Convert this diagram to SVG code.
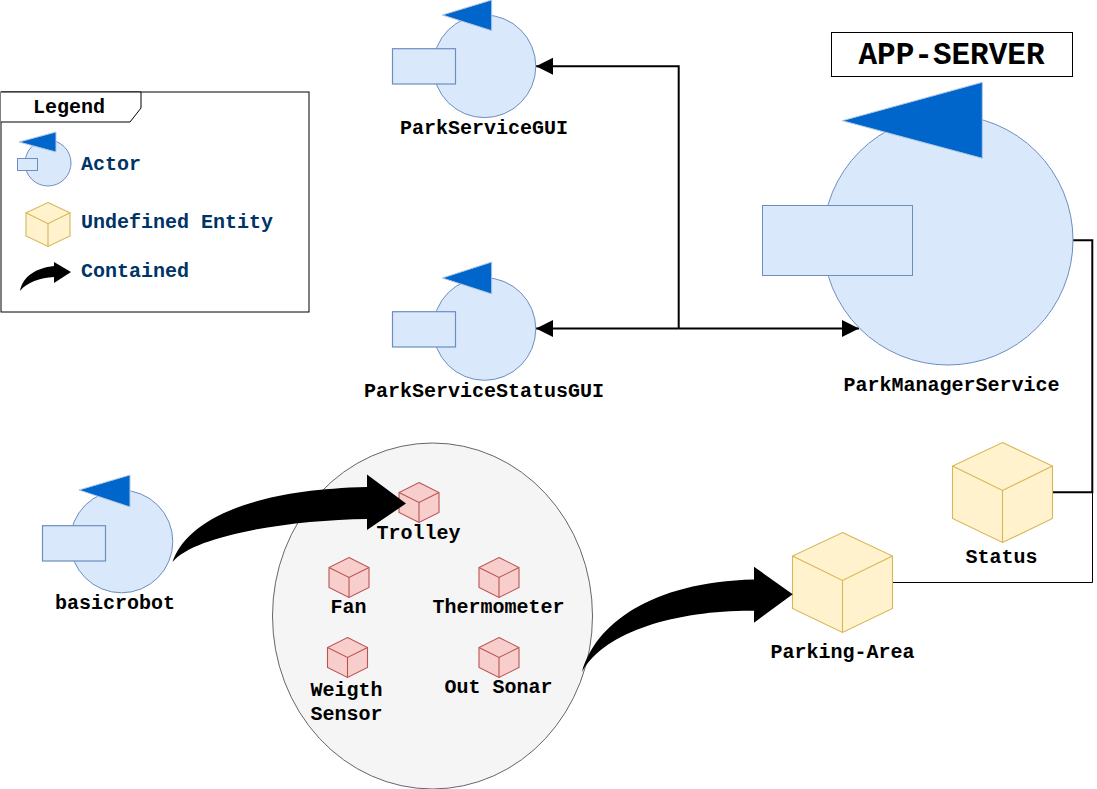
<svg xmlns="http://www.w3.org/2000/svg" width="1097" height="789" viewBox="0 0 1097 789">
<style>
text{font-family:"Liberation Mono","Courier New",monospace;font-size:20px;font-weight:bold;fill:#000;text-anchor:middle}
.leg{fill:#003366;text-anchor:start}
.c{fill:#dae8fc;stroke:#6c8ebf;stroke-width:1}
.t{fill:#0066cc;stroke:#b3c9e6;stroke-width:1}
.y{fill:#fff2cc;stroke:#d6b656;stroke-width:1.100;stroke-linejoin:miter}
.r{fill:#f8cecc;stroke:#b85450;stroke-width:1.100;stroke-linejoin:miter}
.w{fill:none;stroke:#000;stroke-width:2}
</style>
<defs>
<marker id="ah" markerUnits="userSpaceOnUse" markerWidth="18" markerHeight="18" refX="17" refY="9" orient="auto-start-reverse"><path d="M0,0.500 L17,9 L0,17.500 Z" fill="#000"/></marker>
<g id="cube"><path d="M0,-50 L50,-26.500 V26 L0,50 L-50,26 V-26.500 Z"/><path d="M-50,-26.500 L0,-2 L50,-26.500 M0,-2 V50" fill="none"/></g>
<g id="rcube"><path d="M0,-20 L20,-10 V10 L0,20 L-20,10 V-10 Z"/><path d="M-20,-10 L0,0 L20,-10 M0,0 V20" fill="none"/></g>
</defs>
<g id="connectors">
<path class="w" d="M678.700,328.500 V66.300 H536" marker-end="url(#ah)"/>
<path class="w" d="M678.700,328.500 H536" marker-end="url(#ah)"/>
<path class="w" d="M678.700,328.500 H859" marker-end="url(#ah)"/>
<path class="w" d="M1073,240.300 H1092.300 V492.300 H1053"/>
<path d="M1092.500,492 V582.500 H893" fill="none" stroke="#000" stroke-width="1"/>
</g>
<g id="legend">
<rect x="1" y="92" width="308" height="220" fill="#fff" stroke="#000" stroke-width="1"/>
<path d="M1,92 H141 V108 L130,122 H1" fill="#fff" stroke="#000" stroke-width="1"/>
<text x="69" y="113">Legend</text>
<circle class="c" cx="48" cy="163" r="23"/>
<rect class="c" x="17.500" y="158.500" width="20" height="12"/>
<path class="t" d="M19,142 L56,132 V152 Z"/>
<text class="leg" x="81" y="170">Actor</text>
<g transform="translate(48,224.500) scale(.44)" class="y" style="stroke-width:2.500"><use href="#cube"/></g>
<text class="leg" x="81" y="228">Undefined Entity</text>
<path d="M20,291 C23,276 36,268 54,266 L54,262 L71,272 L54,283 L54,277 C40,278 27,282 20,291 Z" fill="#000"/>
<text class="leg" x="81" y="277">Contained</text>
</g>
<g id="ParkServiceGUI">
<circle class="c" cx="484.500" cy="66.300" r="51.300"/>
<rect class="c" x="392.500" y="48.700" width="63" height="35.300" style="stroke-width:1.200"/>
<path class="t" d="M442.300,15 L491.700,0 V30.700 Z"/>
<text x="484" y="134">ParkServiceGUI</text>
</g>
<g id="ParkServiceStatusGUI">
<circle class="c" cx="484.500" cy="329" r="51.300"/>
<rect class="c" x="392.500" y="311.700" width="63" height="35.300" style="stroke-width:1.200"/>
<path class="t" d="M442.300,278 L491.700,262 V294 Z"/>
<text x="484" y="397">ParkServiceStatusGUI</text>
</g>
<g id="basicrobot">
<circle class="c" cx="121.500" cy="541.500" r="51.300"/>
<rect class="c" x="42.500" y="525.700" width="63" height="35.300" style="stroke-width:1.200"/>
<path class="t" d="M79,490 L130,475 V507 Z"/>
<text x="115" y="609">basicrobot</text>
</g>
<g id="ParkManagerService">
<circle class="c" cx="948" cy="240" r="125"/>
<rect class="c" x="762.500" y="205.500" width="150" height="70"/>
<path class="t" d="M842.300,120.700 L982.300,82.300 V158.300 Z"/>
<text x="951.500" y="391">ParkManagerService</text>
</g>
<g id="APP-SERVER">
<rect x="831.500" y="32.500" width="241" height="44" fill="#fff" stroke="#000" stroke-width="1"/>
<text x="951.500" y="64" style="font-size:31px">APP-SERVER</text>
</g>
<g id="Status" class="y"><use href="#cube" x="1002.500" y="492.500"/></g>
<text x="1001.500" y="563">Status</text>
<g id="Parking-Area" class="y"><use href="#cube" x="842.500" y="582.500"/></g>
<text x="842.500" y="658">Parking-Area</text>
<g id="container">
<ellipse cx="432.500" cy="616" rx="160" ry="173" fill="#f5f5f5" stroke="#666" stroke-width="1"/>
</g>
<g id="Trolley" class="r"><use href="#rcube" x="419" y="502.500"/></g>
<text x="418.500" y="539">Trolley</text>
<g id="Fan" class="r"><use href="#rcube" x="349" y="577.500"/></g>
<text x="348.500" y="613">Fan</text>
<g id="Thermometer" class="r"><use href="#rcube" x="499" y="577.500"/></g>
<text x="498.500" y="613">Thermometer</text>
<g id="WeigthSensor" class="r"><use href="#rcube" x="347.500" y="657.500"/></g>
<text x="346.500" y="696">Weigth</text>
<text x="346.500" y="720">Sensor</text>
<g id="OutSonar" class="r"><use href="#rcube" x="499" y="657.500"/></g>
<text x="498.500" y="693">Out Sonar</text>
<g id="contained-arrows">
<path d="M172.500,562 C185,525 240,490 367,487 V474.500 L406,503.500 L367,530 V519 C290,520 195,535 172.500,562 Z" fill="#000"/>
<path d="M582,672 C595,625 650,582 754,579.500 V566.700 L792.700,594.300 L754,622.700 V610.700 C680,610 605,630 582,672 Z" fill="#000"/>
</g>
</svg>
